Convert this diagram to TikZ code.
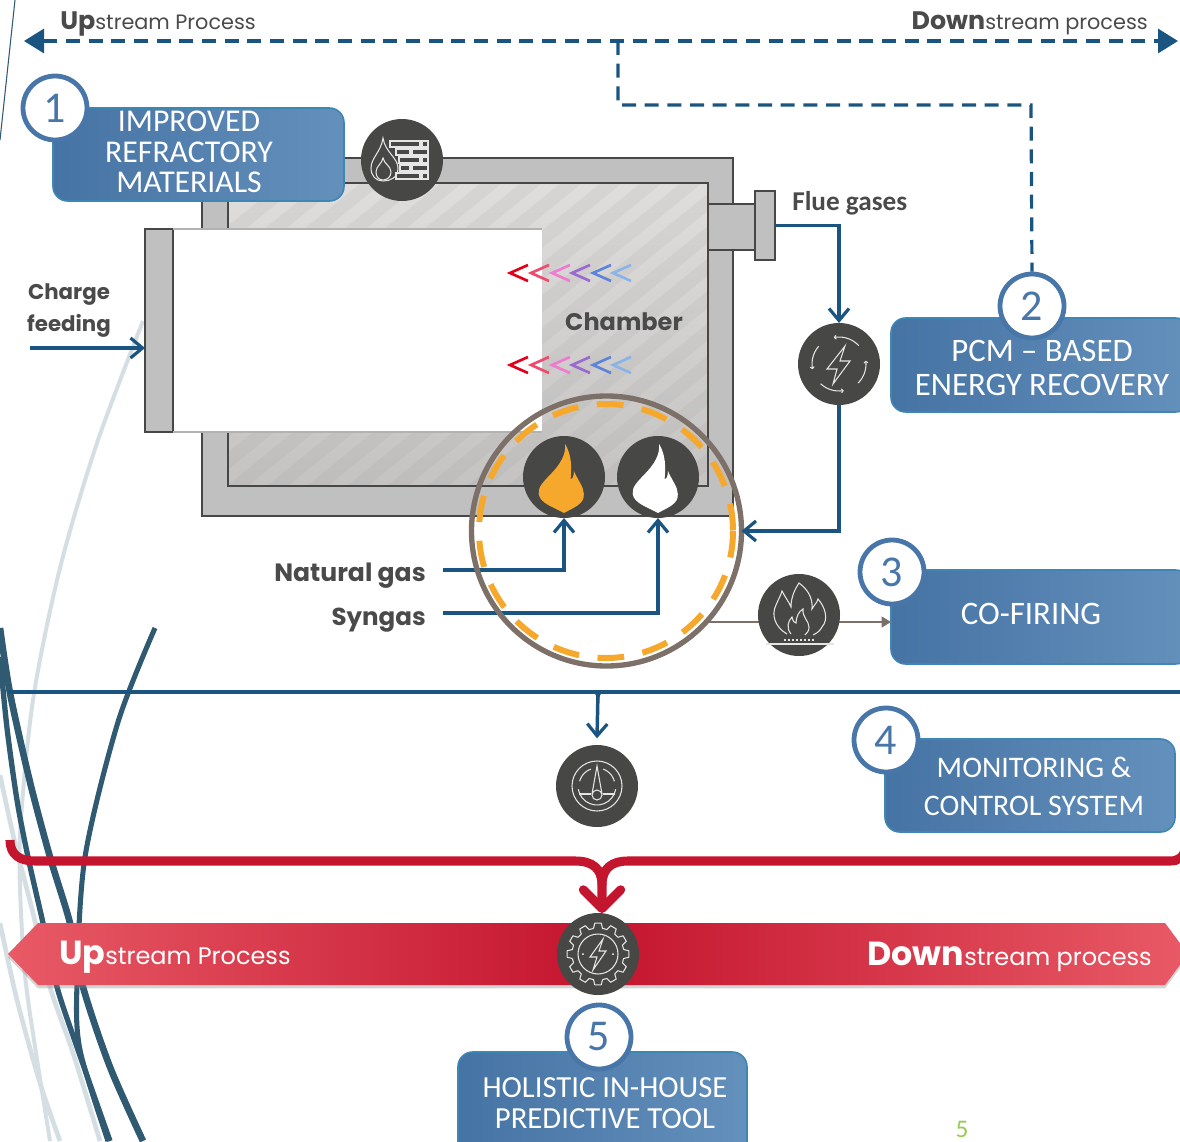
\documentclass[tikz,border=0pt]{standalone}
\usepackage{fontspec}
\setmainfont{Carlito}
\newfontfamily\headfont{Poppins}
\usetikzlibrary{arrows.meta,shadows}
\definecolor{myblue}{RGB}{26,84,128}
\definecolor{mydark}{RGB}{71,71,69}
\definecolor{mytext}{RGB}{74,74,74}
\definecolor{mywall}{RGB}{192,192,192}
\definecolor{myorange}{RGB}{245,168,44}
\definecolor{myring}{RGB}{125,112,105}
\definecolor{myred}{RGB}{196,21,46}
\definecolor{myredlight}{RGB}{232,90,102}
\definecolor{myboxl}{RGB}{69,115,163}
\definecolor{myboxr}{RGB}{100,144,188}
\definecolor{myboxedge}{RGB}{62,134,180}
\definecolor{mybadge}{RGB}{72,118,168}
\definecolor{mysteel}{RGB}{47,90,114}
\definecolor{mymist}{RGB}{213,223,227}
\definecolor{mypage}{RGB}{150,205,80}
\definecolor{chamberlight}{RGB}{224,222,220}
\definecolor{chamberdark}{RGB}{196,195,194}
\definecolor{chevA}{RGB}{226,0,26}
\definecolor{chevB}{RGB}{239,75,110}
\definecolor{chevC}{RGB}{240,122,208}
\definecolor{chevD}{RGB}{154,106,208}
\definecolor{chevE}{RGB}{93,132,216}
\definecolor{chevF}{RGB}{138,180,232}
\newcommand{\px}[1]{#1*0.75pt}
\newcommand{\boxfont}[2]{\fontsize{#1}{#2}\selectfont}
\newcommand{\labelfont}[1]{\headfont\bfseries\fontsize{#1}{24}\selectfont}
\tikzset{
  wallbox/.style={draw=mydark,line width=2.2pt,fill=mywall,rectangle,inner sep=0,outer sep=0},
  iconball/.style={circle,fill=mydark,minimum size={\px{82}},inner sep=0,outer sep=0},
  iconline/.style={draw=white!90!black,line width=0.8pt},
  procbox/.style={rectangle,rounded corners=11pt,draw=myboxedge,line width=1.2pt,left color=myboxl,right color=myboxr,inner sep=0,outer sep=0},
  boxtext/.style={text=white,align=center,inner sep=0},
  badge/.style={circle,draw=mybadge,line width=3.6pt,fill=white,text=mybadge,minimum size={\px{64}},inner sep=0,font=\fontsize{33}{33}\selectfont},
  headtext/.style={text=mytext,inner sep=0,font=\headfont},
  labeltext/.style={text=mytext,inner sep=0},
  flowline/.style={draw=myblue,line width=2.6pt},
  flowarrow/.style={flowline,-{Straight Barb[length=9pt,width=15pt,line width=2.4pt]}},
  scopeline/.style={draw=myblue,line width=2.4pt,dash pattern=on 10.5pt off 6.5pt},
  scopearrow/.style={scopeline,{Triangle[length=15pt,width=18pt,fill=myblue]}-{Triangle[length=15pt,width=18pt,fill=myblue]}},
  redline/.style={draw=myred,line width=6.8pt},
  pics/flameicon/.style={code={
    \fill[#1,xscale=1.1] (1,-33) .. controls (2,-22) and (-4,-12) .. (-12,-3) .. controls (-18,4) and (-24,10) .. (-23,17)
      .. controls (-22,26) and (-10,30) .. (0,36) .. controls (8,31) and (19,27) .. (18,17)
      .. controls (18,10) and (13,4) .. (9,-6) .. controls (9,-1) and (8,2) .. (6,2)
      .. controls (7,-10) and (7,-22) .. (1,-33) -- cycle;
  }},
  pics/brickicon/.style={code={
    \draw[iconline] (-19,-22) .. controls (-17,-8) and (-4,-2) .. (-4,8) .. controls (-4,18) and (-12,21) .. (-19,21)
      .. controls (-26,21) and (-31,16) .. (-31,8) .. controls (-31,-2) and (-21,-8) .. (-19,-22) -- cycle;
    \draw[iconline] (-19,-2) .. controls (-18,4) and (-11,6) .. (-11,12) .. controls (-11,17) and (-15,20) .. (-19,20)
      .. controls (-23,20) and (-26,17) .. (-26,12) .. controls (-26,6) and (-20,4) .. (-19,-2) -- cycle;
    \foreach \yrow/\xa/\xb in {-19/-12/18,-11/-6/8,-3/-3/18,5/-2/8,13/-6/18}{
      \draw[iconline] (\xa,\yrow) rectangle (\xb,\yrow+6);
      \draw[iconline] (\xb+2,\yrow) rectangle (26,\yrow+6);
    }
  }},
  pics/energyicon/.style={code={
    \draw[iconline] (6,-18) -- (-12,5) -- (-2,5) -- (-6,20) -- (11,-3) -- (1,-3) -- cycle;
    \foreach \aa/\ab in {-43/-101,45/-7,133/80,221/169}{
      \draw[iconline,-{To[length=2pt,width=3.5pt]}] plot[domain=\aa:\ab,samples=8] (\x:27);
    }
  }},
  pics/fireicon/.style={code={
    \draw[iconline] (-12,19) .. controls (-24,12) and (-28,0) .. (-23,-10) .. controls (-21,-15) and (-18,-20) .. (-17,-24)
      .. controls (-14,-18) and (-10,-13) .. (-8,-8) .. controls (-8,-18) and (-4,-26) .. (0,-32)
      .. controls (8,-26) and (14,-18) .. (13,-6) .. controls (15,-10) and (18,-12) .. (19,-16)
      .. controls (26,-8) and (30,4) .. (23,12) .. controls (21,16) and (18,18) .. (14,20);
    \draw[iconline] (-8,19) .. controls (-13,13) and (-11,6) .. (-7,2) .. controls (-6,6) and (-5,8) .. (-3,8)
      .. controls (-3,2) and (0,-4) .. (4,-6) .. controls (3,2) and (10,6) .. (10,12) .. controls (10,16) and (8,18) .. (6,20);
    \draw[iconline,line width=1.5pt,dash pattern=on 1.5pt off 1.5pt] (-15,25) -- (17,25);
    \draw[iconline] (-33,29) -- (35,29);
  }},
  pics/gaugeicon/.style={code={
    \draw[iconline] (0,0) circle (25);
    \draw[iconline] plot[domain=195:250,samples=8] (\x:18);
    \draw[iconline] plot[domain=290:345,samples=8] (\x:18);
    \draw[iconline] (-5,8) -- (0,-20) -- (5,8);
    \draw[iconline] (0,9) circle (5);
    \draw[iconline] (-18,8) -- (-6,8);
    \draw[iconline] (6,8) -- (18,8);
    \draw[iconline] plot[domain=10:170,samples=12] (\x:19);
  }},
  pics/gearicon/.style={code={
    \foreach \a in {0,30,...,330}{
      \draw[iconline,line join=round] (\a-10:26) -- (\a-6:31) -- (\a+6:31) -- (\a+10:26) -- (\a+20:26);
    }
    \draw[iconline] (0,0) circle (20);
    \draw[iconline] (5,-15) -- (-8,3) -- (-1,3) -- (-5,16) -- (8,-3) -- (1,-3) -- cycle;
    \fill[white] (-15,0) circle (1);
    \fill[white] (15,0) circle (1);
  }},
}
\begin{document}
\begin{tikzpicture}[x=0.75pt,y=-0.75pt]
\clip (0,0) rectangle (1180,1141);
% background swashes
\draw[mysteel,line width=0.8pt] (15,0) -- (0,140);
\draw[mymist,line width=3pt] plot[smooth] coordinates {(143,321) (97,443) (60,568) (33,700) (20,836) (22,933) (28,1000) (50,1141)};
\draw[mymist,line width=3.5pt] plot[smooth] coordinates {(0,775) (15,843) (33,913) (50,987) (73,1053) (100,1141)};
\draw[mymist,line width=3.5pt] plot[smooth] coordinates {(0,923) (17,1000) (40,1083) (60,1141)};
\draw[mysteel,line width=3.8pt] plot[smooth] coordinates {(155,628) (118,722) (85,857) (77,983) (80,1050) (108,1141)};
\draw[mysteel,line width=5pt] plot[smooth] coordinates {(0,628) (10,693) (30,782) (50,857) (70,923) (83,987) (110,1067) (143,1141)};
\draw[mysteel,line width=4pt] plot[smooth] coordinates {(0,657) (7,728) (17,800) (28,857) (43,923) (57,987) (77,1047) (110,1141)};
% furnace
\node[wallbox,minimum width={\px{531}},minimum height={\px{358}}] (furnace) at (467.5,337) {};
\node[wallbox,top color=chamberlight,bottom color=chamberdark,minimum width={\px{480}},minimum height={\px{303}}] (chamber) at (468,334.5) {};
\begin{scope}
\clip (228,183) rectangle (708,486);
\foreach \i in {-100,-60,...,800}{
  \draw[black!40,opacity=0.12,line width=10pt] (\i,500) -- (\i+420,160);
}
\end{scope}
\draw[mydark,line width=2.2pt] (chamber.south west) rectangle (chamber.north east);
\node[fill=white,minimum width={\px{369}},minimum height={\px{203}},inner sep=0,outer sep=0] (load) at (357.5,330.5) {};
\node[wallbox,minimum width={\px{28}},minimum height={\px{203}}] (door) at (159,330.5) {};
\draw[black!30,line width=0.8pt] (door.north east) -- (load.north east);
\draw[black!30,line width=0.8pt] (door.south east) -- (load.south east);
\node[wallbox,minimum width={\px{47}},minimum height={\px{46}}] (fluepipe) at (731.5,227) {};
\node[wallbox,minimum width={\px{20}},minimum height={\px{69}}] (flange) at (765,225.5) {};
% chevrons
\foreach \yrow in {273,365}{
  \foreach \xtip/\col in {510/chevA,531/chevB,552/chevC,572/chevD,593/chevE,613/chevF}{
    \draw[\col,line width=2pt] (\xtip+18,\yrow-8) -- (\xtip,\yrow) -- (\xtip+18,\yrow+8);
  }
}
\node[labeltext,font=\labelfont{18}] (chamberlabel) at (624,322) {Chamber};
% top scale
\coordinate (upend) at (24,41);
\coordinate (downend) at (1178,41);
\coordinate (scopeturn) at (618,41);
\coordinate (scopeleft) at (618,105);
\coordinate (scoperight) at (1031,105);
\draw[scopearrow] (upend) -- (downend);
\node[headtext,anchor=base west] (uplabel) at (60,30) {{\fontsize{19}{19}\selectfont\bfseries Up}{\fontsize{15.6}{15}\selectfont stream Process}};
\node[headtext,anchor=base east] (downlabel) at (1148,30) {{\fontsize{19}{19}\selectfont\bfseries Down}{\fontsize{15.6}{15}\selectfont stream process}};
% burners and their feeds
\node[iconball] (flameone) at (564,477) {};
\node[iconball] (flametwo) at (658,477) {};
\pic at (flameone) {flameicon=myorange};
\pic at (flametwo) {flameicon=white};
\coordinate (naturalstart) at (443,570);
\coordinate (syngasstart) at (443,613);
\draw[flowarrow] (naturalstart) -| (flameone.south);
\draw[flowarrow] (syngasstart) -| (flametwo.south);
\node[labeltext,anchor=base east,font=\labelfont{18.8}] (naturallabel) at (426,581) {Natural gas};
\node[labeltext,anchor=base east,font=\labelfont{18.4}] (syngaslabel) at (426,625) {Syngas};
% zoom ring
\draw[myorange,line width=4.5pt,dash pattern=on 20pt off 14pt] (606,531) circle (127);
\node[circle,draw=myring,line width=4pt,minimum size={\px{270}},inner sep=0,outer sep=0] (bigring) at (606.5,531) {};
% charge feed
\node[labeltext,align=center,font=\labelfont{16}] (chargelabel) at (69,311) {Charge\\feeding};
\coordinate (chargestart) at (30,348);
\draw[flowarrow] (chargestart) -- (chargestart -| door.west);
\node[text=mytext,inner sep=0,anchor=base west,font=\bfseries\fontsize{20.4}{20}\selectfont] (fluelabel) at (792,210) {Flue gases};
% process boxes
\node[procbox,minimum width={\px{291}},minimum height={\px{93}}] (boxone) at (198.5,154.5) {};
\node[boxtext,font=\boxfont{23.8}{23}] (boxonetext) at (189,152) {IMPROVED\\REFRACTORY\\MATERIALS};
\node[badge] (badgeone) at (55,108) {1};
\node[iconball] (brick) at (402,160) {};
\pic at (brick) {brickicon};
\node[procbox,minimum width={\px{299}},minimum height={\px{94}}] (boxtwo) at (1040.5,365) {};
\node[boxtext,font=\boxfont{24.6}{26}] (boxtwotext) at (1042,368) {PCM -- BASED\\ENERGY RECOVERY};
\node[badge] (badgetwo) at (1032,306) {2};
\draw[scopeline] (scopeturn) -- (scopeleft) -- (scoperight) -- (badgetwo.north);
\node[iconball] (energy) at (839,364) {};
\pic at (energy) {energyicon};
\draw[flowarrow] (flange.east) -| (energy.north);
\draw[flowarrow] (energy.south) |- (bigring.east);
\node[procbox,minimum width={\px{299}},minimum height={\px{94}}] (boxthree) at (1040.5,617) {};
\node[boxtext,font=\boxfont{24.6}{26}] (boxthreetext) at (1031,614) {CO-FIRING};
\node[badge] (badgethree) at (892,572) {3};
\coordinate (ringexit) at (709,622);
\draw[draw=myring,line width=1.6pt,-{Triangle[length=7pt,width=8pt]}] (ringexit) -- (ringexit -| boxthree.west);
\node[iconball] (cofire) at (799,615) {};
\pic at (cofire) {fireicon};
% monitoring bus
\coordinate (busleft) at (8,692);
\coordinate (busright) at (1180,692);
\coordinate (busdrop) at (598,692);
\draw[flowline] (busleft) -- (busright);
\node[iconball] (gauge) at (597,786) {};
\pic at (gauge) {gaugeicon};
\draw[flowarrow] (busdrop) -- ([yshift=5pt]gauge.north);
\fill[myblue] (590,692) .. controls (595,692) and (597,695) .. (597,701) -- (599,701) .. controls (599,695) and (601,692) .. (606,692) -- cycle;
\node[procbox,minimum width={\px{290}},minimum height={\px{93}}] (boxfour) at (1030,785.5) {};
\node[boxtext,font=\boxfont{22.4}{28.5}] (boxfourtext) at (1034,786) {MONITORING \&\\CONTROL SYSTEM};
\node[badge] (badgefour) at (886,740) {4};
% red banner
\path[left color=myredlight,right color=myredlight,middle color=myred,drop shadow={shadow xshift=0pt,shadow yshift=-2.5pt,opacity=0.35}]
  (8,954) -- (38,923) -- (1165,923) -- (1188,954) -- (1165,985) -- (38,985) -- cycle;
\node[iconball] (gear) at (598,954) {};
\pic at (gear) {gearicon};
\coordinate (redleft) at (10,840);
\coordinate (redright) at (1186,846);
\draw[redline,-{Straight Barb[length=14pt,width=28pt,line width=6.8pt,round]}] (redleft) .. controls (10,855) and (20,861) .. (35,861) -- (575,861) .. controls (592,861) and (602,868) .. (602,885) -- ([xshift=3pt]gear.north);
\draw[redline] (redright) .. controls (1184,858) and (1178,861) .. (1170,861) -- (628,861) .. controls (612,861) and (602,868) .. (602,885);
\node[text=white,inner sep=0,anchor=base west,font=\headfont] (banneruplabel) at (59,964) {{\fontsize{25}{25}\selectfont\bfseries Up}{\fontsize{18}{17}\selectfont stream Process}};
\node[text=white,inner sep=0,anchor=base east,font=\headfont] (bannerdownlabel) at (1152,965) {{\fontsize{25}{25}\selectfont\bfseries Down}{\fontsize{18}{17}\selectfont stream process}};
% predictive tool
\node[procbox,minimum width={\px{289}},minimum height={\px{110}}] (boxfive) at (602.5,1107) {};
\node[boxtext,font=\boxfont{23}{23}] (boxfivetext) at (605,1103) {HOLISTIC IN-HOUSE\\PREDICTIVE TOOL};
\node[badge] (badgefive) at (599,1037) {5};
\node[text=mypage,inner sep=0,anchor=base,font=\fontsize{19}{19}\selectfont] (pagenumber) at (962,1137) {5};
\end{tikzpicture}
\end{document}
